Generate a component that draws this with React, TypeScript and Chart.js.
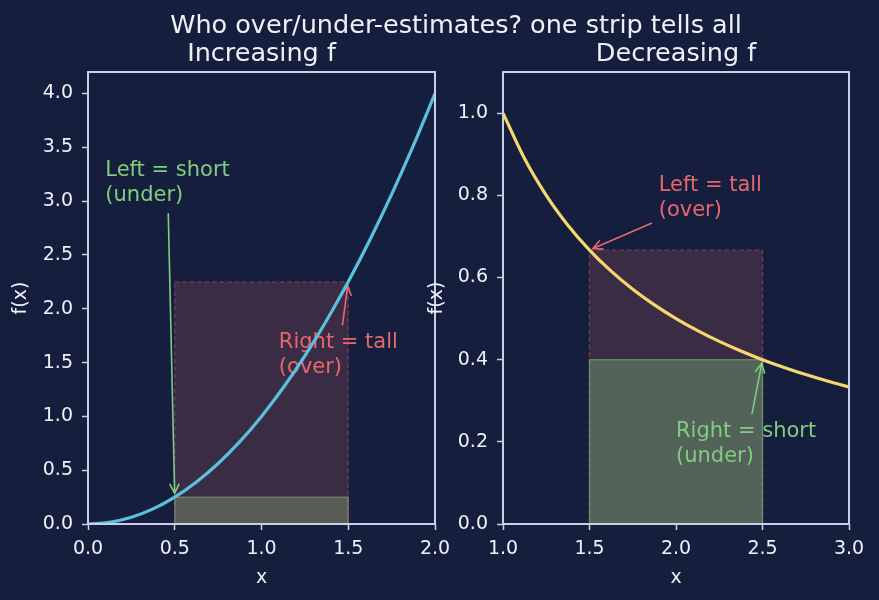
import { useEffect, useRef } from "react";
import { Chart, registerables } from "chart.js";

Chart.register(...registerables);

const FONT = '"DejaVu Sans", "Noto Sans", sans-serif';
const BG = "#151f3d";
const SPINE = "#c9d0e6";
const INK = "#eef1f8";
const RED = "#e8676e";
const GREEN = "#80cc80";
const BLUE = "#5bc0de";
const GOLD = "#f5d76e";

const W = 879;
const H = 600;

// Increasing curve f(x) = x² on [0, 2]
const incX = [0, 0.125, 0.25, 0.375, 0.5, 0.625, 0.75, 0.875, 1, 1.125, 1.25, 1.375, 1.5, 1.625, 1.75, 1.875, 2];
const incY = [0, 0.0156, 0.0625, 0.1406, 0.25, 0.3906, 0.5625, 0.7656, 1, 1.2656, 1.5625, 1.8906, 2.25, 2.6406, 3.0625, 3.5156, 4];

// Decreasing curve f(x) = 1/x on [1, 3]
const decX = [1, 1.125, 1.25, 1.375, 1.5, 1.625, 1.75, 1.875, 2, 2.125, 2.25, 2.375, 2.5, 2.625, 2.75, 2.875, 3];
const decY = [1, 0.8889, 0.8, 0.7273, 0.6667, 0.6154, 0.5714, 0.5333, 0.5, 0.4706, 0.4444, 0.4211, 0.4, 0.381, 0.3636, 0.3478, 0.3333];

// One strip [a, b] and the heights f(a), f(b) used by the left / right sums
const incStripX = [0.5, 1.5];
const incStripY = [0.25, 2.25];
const decStripX = [1.5, 2.5];
const decStripY = [0.6667, 0.4];

// Tick values
const incXTicks = [0, 0.5, 1, 1.5, 2];
const incYTicks = [0, 0.5, 1, 1.5, 2, 2.5, 3, 3.5, 4];
const decXTicks = [1, 1.5, 2, 2.5, 3];
const decYTicks = [0, 0.2, 0.4, 0.6, 0.8, 1];

type Pt = [number, number];
interface Note {
  lines: string[];
  color: string;
  at: Pt; // data position of the last line's baseline (left aligned)
  side: 0 | 1; // which strip endpoint the arrow points at
}
interface Panel {
  title: string;
  left: number;
  width: number;
  axisWidth: number;
  padRight: number;
  yLabelX: number;
  xs: number[];
  ys: number[];
  line: string;
  xRange: Pt;
  yRange: Pt;
  xTicks: number[];
  yTicks: number[];
  stripX: number[];
  stripY: number[];
  notes: Note[];
}

const panels: Panel[] = [
  {
    title: "Increasing f",
    left: 0,
    width: 470,
    axisWidth: 88,
    padRight: 35,
    yLabelX: 26,
    xs: incX,
    ys: incY,
    line: BLUE,
    xRange: [0, 2],
    yRange: [0, 4.2],
    xTicks: incXTicks,
    yTicks: incYTicks,
    stripX: incStripX,
    stripY: incStripY,
    notes: [
      { lines: ["Left = short", "(under)"], color: GREEN, at: [0.1, 3.0], side: 0 },
      { lines: ["Right = tall", "(over)"], color: RED, at: [1.1, 1.4], side: 1 },
    ],
  },
  {
    title: "Decreasing f",
    left: 400,
    width: 479,
    axisWidth: 103,
    padRight: 30,
    yLabelX: 42,
    xs: decX,
    ys: decY,
    line: GOLD,
    xRange: [1, 3],
    yRange: [0, 1.1],
    xTicks: decXTicks,
    yTicks: decYTicks,
    stripX: decStripX,
    stripY: decStripY,
    notes: [
      { lines: ["Left = tall", "(over)"], color: RED, at: [1.9, 0.75], side: 0 },
      { lines: ["Right = short", "(under)"], color: GREEN, at: [2.0, 0.15], side: 1 },
    ],
  },
];

function rgba(hex: string, a: number) {
  const n = parseInt(hex.slice(1), 16);
  return `rgba(${(n >> 16) & 255},${(n >> 8) & 255},${n & 255},${a})`;
}

const NOTE_SIZE = 21;
const TITLE_SIZE = 25.5;

function drawNote(ctx: CanvasRenderingContext2D, chart: any, p: Panel, note: Note) {
  const { x, y } = chart.scales;
  const ax = x.getPixelForValue(note.at[0]);
  const ay = y.getPixelForValue(note.at[1]);
  const lh = NOTE_SIZE * 1.2;
  const n = note.lines.length;
  ctx.save();
  ctx.font = `${NOTE_SIZE}px ${FONT}`;
  ctx.fillStyle = note.color;
  ctx.textAlign = "left";
  ctx.textBaseline = "alphabetic";
  let w = 0;
  note.lines.forEach((ln, i) => {
    ctx.fillText(ln, ax, ay - (n - 1 - i) * lh);
    w = Math.max(w, ctx.measureText(ln).width);
  });

  // arrow from the text box towards the strip corner
  const pad = 3.8;
  const bx0 = ax - pad;
  const bx1 = ax + w + pad;
  const by0 = ay - (n - 1) * lh - 0.76 * NOTE_SIZE - pad;
  const by1 = ay + 0.24 * NOTE_SIZE + pad;
  const cx = (bx0 + bx1) / 2;
  const cy = (by0 + by1) / 2;
  const tx = x.getPixelForValue(p.stripX[note.side]);
  const ty = y.getPixelForValue(p.stripY[note.side]);
  const len = Math.hypot(tx - cx, ty - cy);
  const dx = (tx - cx) / len;
  const dy = (ty - cy) / len;
  const sx = dx > 0 ? (bx1 - cx) / dx : dx < 0 ? (bx0 - cx) / dx : Infinity;
  const sy = dy > 0 ? (by1 - cy) / dy : dy < 0 ? (by0 - cy) / dy : Infinity;
  const s = Math.min(sx, sy) + 3.8;
  const x0 = cx + dx * s;
  const y0 = cy + dy * s;
  const x1 = tx - dx * 3.8;
  const y1 = ty - dy * 3.8;
  const hl = 9;
  const hw = 4.5;
  ctx.strokeStyle = note.color;
  ctx.lineWidth = 1.6;
  ctx.lineCap = "round";
  ctx.beginPath();
  ctx.moveTo(x0, y0);
  ctx.lineTo(x1, y1);
  ctx.moveTo(x1 - dx * hl - dy * hw, y1 - dy * hl + dx * hw);
  ctx.lineTo(x1, y1);
  ctx.lineTo(x1 - dx * hl + dy * hw, y1 - dy * hl - dx * hw);
  ctx.stroke();
  ctx.restore();
}

function figurePlugin(p: Panel) {
  return {
    id: "stripFigure",
    beforeDatasetsDraw(chart: any) {
      const { ctx, chartArea: ca, scales } = chart;
      const { x, y } = scales;
      const [a, b] = p.stripX;
      const low = Math.min(p.stripY[0], p.stripY[1]);
      const x0 = x.getPixelForValue(a);
      const x1 = x.getPixelForValue(b);
      const base = y.getPixelForValue(0);
      ctx.save();
      ctx.beginPath();
      ctx.rect(ca.left, ca.top, ca.right - ca.left, ca.bottom - ca.top);
      ctx.clip();
      // left-endpoint rectangle first, then right-endpoint rectangle
      p.stripY.forEach((h) => {
        const under = h === low;
        const c = under ? GREEN : RED;
        const top = y.getPixelForValue(h);
        ctx.fillStyle = rgba(c, under ? 0.35 : 0.18);
        ctx.fillRect(x0, top, x1 - x0, base - top);
        ctx.strokeStyle = rgba(c, under ? 0.5 : 0.38);
        ctx.lineWidth = 1.3;
        ctx.setLineDash(under ? [] : [4.5, 3]);
        ctx.strokeRect(x0, top, x1 - x0, base - top);
      });
      ctx.restore();
      p.notes.forEach((nt) => drawNote(ctx, chart, p, nt));
    },
    afterDraw(chart: any) {
      const { ctx, chartArea: ca } = chart;
      ctx.save();
      ctx.strokeStyle = SPINE;
      ctx.lineWidth = 2;
      ctx.strokeRect(ca.left, ca.top, ca.right - ca.left, ca.bottom - ca.top);

      ctx.fillStyle = INK;
      ctx.textAlign = "center";
      ctx.textBaseline = "alphabetic";
      ctx.font = `${TITLE_SIZE}px ${FONT}`;
      ctx.fillText(p.title, (ca.left + ca.right) / 2, 61);

      ctx.font = `19px ${FONT}`;
      ctx.fillText("x", (ca.left + ca.right) / 2, 583);
      ctx.translate(p.yLabelX, (ca.top + ca.bottom) / 2);
      ctx.rotate(-Math.PI / 2);
      ctx.fillText("f(x)", 0, 0);
      ctx.restore();
    },
  };
}

function PanelChart({ p }: { p: Panel }) {
  const ref = useRef<HTMLCanvasElement>(null);
  useEffect(() => {
    const canvas = ref.current;
    if (!canvas) return;
    const tickFont = { family: FONT, size: 19 };
    const chart = new Chart(canvas, {
      type: "line",
      data: {
        datasets: [
          {
            data: p.xs.map((v, i) => ({ x: v, y: p.ys[i] })),
            borderColor: p.line,
            borderWidth: 3.2,
            pointRadius: 0,
            fill: false,
            cubicInterpolationMode: "monotone",
          },
        ],
      },
      options: {
        responsive: false,
        animation: false,
        devicePixelRatio: 1,
        events: [],
        layout: { padding: { left: 0, right: p.padRight, top: 72, bottom: 0 } },
        plugins: {
          legend: { display: false },
          title: { display: false },
          tooltip: { enabled: false },
        },
        scales: {
          x: {
            type: "linear",
            min: p.xRange[0],
            max: p.xRange[1],
            border: { display: false },
            grid: {
              display: true,
              drawOnChartArea: false,
              drawTicks: true,
              tickLength: 6,
              tickColor: SPINE,
              tickWidth: 1.5,
            },
            ticks: {
              color: INK,
              font: tickFont,
              padding: 8,
              maxRotation: 0,
              autoSkip: false,
              callback: (v: any) => Number(v).toFixed(1),
            },
            afterBuildTicks: (s: any) => {
              s.ticks = p.xTicks.map((value) => ({ value }));
            },
            afterFit: (s: any) => {
              s.height = 76;
            },
          },
          y: {
            type: "linear",
            min: p.yRange[0],
            max: p.yRange[1],
            border: { display: false },
            grid: {
              display: true,
              drawOnChartArea: false,
              drawTicks: true,
              tickLength: 6,
              tickColor: SPINE,
              tickWidth: 1.5,
            },
            ticks: {
              color: INK,
              font: tickFont,
              padding: 9,
              autoSkip: false,
              callback: (v: any) => Number(v).toFixed(1),
            },
            afterBuildTicks: (s: any) => {
              s.ticks = p.yTicks.map((value) => ({ value }));
            },
            afterFit: (s: any) => {
              s.width = p.axisWidth;
            },
          },
        },
      } as any,
      plugins: [figurePlugin(p)],
    });
    return () => chart.destroy();
  }, [p]);
  return (
    <canvas
      ref={ref}
      width={p.width}
      height={H}
      style={{ position: "absolute", left: p.left, top: 0, width: p.width, height: H }}
    />
  );
}

export default function App() {
  return (
    <div
      style={{
        position: "fixed",
        left: 0,
        top: 0,
        width: W,
        height: H,
        background: BG,
        overflow: "hidden",
      }}
    >
      {panels.map((p) => (
        <PanelChart key={p.title} p={p} />
      ))}
      <div
        style={{
          position: "absolute",
          left: 456,
          top: 12,
          transform: "translateX(-50%)",
          whiteSpace: "nowrap",
          font: `${TITLE_SIZE}px ${FONT}`,
          lineHeight: "25px",
          color: INK,
        }}
      >
        Who over/under-estimates? one strip tells all
      </div>
    </div>
  );
}
